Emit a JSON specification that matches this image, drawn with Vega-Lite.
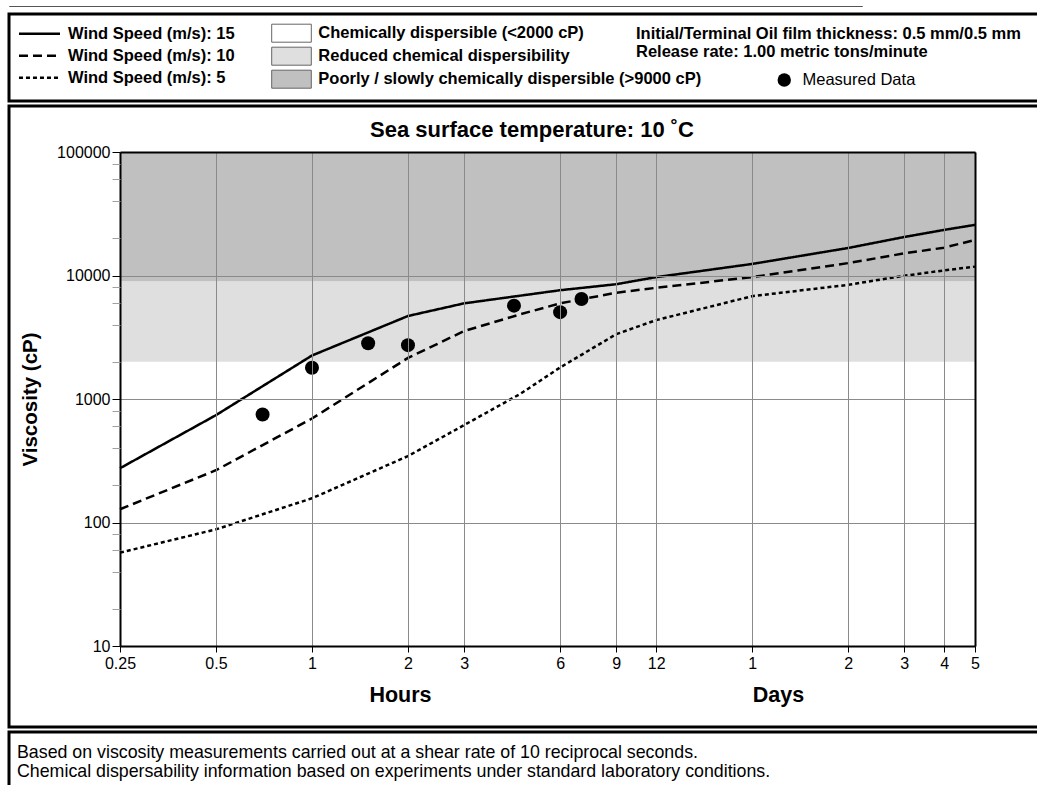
{
  "$schema": "https://vega.github.io/schema/vega-lite/v6.json",
  "padding": {"left": 7, "top": 5, "right": 0, "bottom": 0},
  "background": "white",
  "config": {
    "font": "Liberation Sans",
    "view": {"stroke": "black", "strokeWidth": 3},
    "axis": {"labelFont": "Liberation Sans", "titleFont": "Liberation Sans", "labelColor": "black", "titleColor": "black", "tickColor": "black", "domainColor": "black", "labelFontSize": 16, "zindex": 1},
    "legend": {"labelFont": "Liberation Sans", "titleFont": "Liberation Sans", "labelColor": "black", "titleColor": "black", "padding": 0, "labelLimit": 600, "titleLimit": 600},
    "title": {"font": "Liberation Sans", "color": "black"}
  },
  "datasets": {
    "visc": [
      {"wind": "Wind Speed (m/s): 15", "hours": 0.25, "visc": 275},
      {"wind": "Wind Speed (m/s): 15", "hours": 0.5, "visc": 740},
      {"wind": "Wind Speed (m/s): 15", "hours": 1, "visc": 2250},
      {"wind": "Wind Speed (m/s): 15", "hours": 2, "visc": 4700},
      {"wind": "Wind Speed (m/s): 15", "hours": 3, "visc": 5950},
      {"wind": "Wind Speed (m/s): 15", "hours": 6, "visc": 7600},
      {"wind": "Wind Speed (m/s): 15", "hours": 9, "visc": 8500},
      {"wind": "Wind Speed (m/s): 15", "hours": 12, "visc": 9700},
      {"wind": "Wind Speed (m/s): 15", "hours": 24, "visc": 12400},
      {"wind": "Wind Speed (m/s): 15", "hours": 48, "visc": 16700},
      {"wind": "Wind Speed (m/s): 15", "hours": 72, "visc": 20500},
      {"wind": "Wind Speed (m/s): 15", "hours": 96, "visc": 23400},
      {"wind": "Wind Speed (m/s): 15", "hours": 120, "visc": 25700},
      {"wind": "Wind Speed (m/s): 10", "hours": 0.25, "visc": 128},
      {"wind": "Wind Speed (m/s): 10", "hours": 0.5, "visc": 265},
      {"wind": "Wind Speed (m/s): 10", "hours": 1, "visc": 695},
      {"wind": "Wind Speed (m/s): 10", "hours": 2, "visc": 2150},
      {"wind": "Wind Speed (m/s): 10", "hours": 3, "visc": 3550},
      {"wind": "Wind Speed (m/s): 10", "hours": 4.5, "visc": 4850},
      {"wind": "Wind Speed (m/s): 10", "hours": 6, "visc": 5950},
      {"wind": "Wind Speed (m/s): 10", "hours": 9, "visc": 7250},
      {"wind": "Wind Speed (m/s): 10", "hours": 12, "visc": 7950},
      {"wind": "Wind Speed (m/s): 10", "hours": 24, "visc": 9700},
      {"wind": "Wind Speed (m/s): 10", "hours": 48, "visc": 12600},
      {"wind": "Wind Speed (m/s): 10", "hours": 72, "visc": 15100},
      {"wind": "Wind Speed (m/s): 10", "hours": 96, "visc": 16800},
      {"wind": "Wind Speed (m/s): 10", "hours": 120, "visc": 19400},
      {"wind": "Wind Speed (m/s): 5", "hours": 0.25, "visc": 57},
      {"wind": "Wind Speed (m/s): 5", "hours": 0.5, "visc": 88},
      {"wind": "Wind Speed (m/s): 5", "hours": 1, "visc": 157},
      {"wind": "Wind Speed (m/s): 5", "hours": 2, "visc": 345},
      {"wind": "Wind Speed (m/s): 5", "hours": 3, "visc": 615},
      {"wind": "Wind Speed (m/s): 5", "hours": 4.5, "visc": 1100},
      {"wind": "Wind Speed (m/s): 5", "hours": 6, "visc": 1800},
      {"wind": "Wind Speed (m/s): 5", "hours": 9, "visc": 3350},
      {"wind": "Wind Speed (m/s): 5", "hours": 12, "visc": 4350},
      {"wind": "Wind Speed (m/s): 5", "hours": 24, "visc": 6800},
      {"wind": "Wind Speed (m/s): 5", "hours": 48, "visc": 8400},
      {"wind": "Wind Speed (m/s): 5", "hours": 72, "visc": 9950},
      {"wind": "Wind Speed (m/s): 5", "hours": 96, "visc": 11000},
      {"wind": "Wind Speed (m/s): 5", "hours": 120, "visc": 11800}
    ],
    "zones": [
      {"zone": "Chemically dispersible (<2000 cP)", "lo": 10, "hi": 2000},
      {"zone": "Reduced chemical dispersibility", "lo": 2000, "hi": 9000},
      {"zone": "Poorly / slowly chemically dispersible (>9000 cP)", "lo": 9000, "hi": 100000}
    ],
    "measured": [
      {"kind": "Measured Data", "hours": 0.7, "visc": 750},
      {"kind": "Measured Data", "hours": 1, "visc": 1790},
      {"kind": "Measured Data", "hours": 1.5, "visc": 2830},
      {"kind": "Measured Data", "hours": 2, "visc": 2730},
      {"kind": "Measured Data", "hours": 4.3, "visc": 5700},
      {"kind": "Measured Data", "hours": 6, "visc": 5050},
      {"kind": "Measured Data", "hours": 7, "visc": 6450}
    ]
  },
  "spacing": 5,
  "vconcat": [
    {
      "width": 853,
      "height": 0.01,
      "view": {"stroke": "#555", "strokeWidth": 1},
      "data": {"values": []},
      "mark": "point",
      "encoding": {}
    },
    {
      "spacing": 1,
      "resolve": {"scale": {"fill": "independent", "strokeDash": "independent", "shape": "independent"}},
      "vconcat": [
        {
          "width": 1046,
          "height": 87,
          "view": {"stroke": "black", "strokeWidth": 3},
          "layer": [
            {
              "data": {"name": "visc"},
              "mark": {"type": "line", "opacity": 0, "color": "black", "strokeWidth": 2.5},
              "encoding": {
                "strokeDash": {
                  "field": "wind", "type": "nominal",
                  "scale": {"domain": ["Wind Speed (m/s): 15", "Wind Speed (m/s): 10", "Wind Speed (m/s): 5"], "range": [[1, 0], [9, 5], [4, 3]]},
                  "legend": {"orient": "none", "legendX": 10, "legendY": 9.3, "title": null, "direction": "vertical", "symbolType": "M-2.28,0H2.28", "symbolSize": 324, "symbolStrokeWidth": 2.5, "symbolStrokeColor": "black", "symbolOffset": 10, "labelOffset": 18, "labelFontSize": 16.5, "labelFontWeight": "bold", "rowPadding": 3}
                }
              }
            },
            {
              "data": {"name": "zones"},
              "mark": {"type": "rect", "opacity": 0},
              "encoding": {
                "fill": {
                  "field": "zone", "type": "nominal",
                  "scale": {"domain": ["Chemically dispersible (<2000 cP)", "Reduced chemical dispersibility", "Poorly / slowly chemically dispersible (>9000 cP)"], "range": ["#ffffff", "#dfdfdf", "#c0c0c0"]},
                  "legend": {"orient": "none", "legendX": 262.7, "legendY": 9.7, "title": null, "direction": "vertical", "symbolType": "M-2.2,-1H2.2V1H-2.2Z", "symbolSize": 324, "symbolStrokeWidth": 1, "symbolStrokeColor": "#666666", "symbolOffset": 10.3, "labelOffset": 17.3, "labelFontSize": 16.5, "labelFontWeight": "bold", "rowPadding": 0}
                }
              }
            },
            {
              "data": {"name": "measured"},
              "mark": {"type": "point", "opacity": 0, "filled": true, "color": "black"},
              "encoding": {
                "shape": {
                  "field": "kind", "type": "nominal",
                  "scale": {"range": ["circle"]},
                  "legend": {"orient": "none", "legendX": 627, "legendY": 12.2, "title": ["Initial/Terminal Oil film thickness: 0.5 mm/0.5 mm", "Release rate: 1.00 metric tons/minute"], "titleFontSize": 16.5, "titleFontWeight": "bold", "titleLineHeight": 18, "titlePadding": 11, "titleBaseline": "top", "direction": "vertical", "symbolType": "circle", "symbolSize": 180, "symbolFillColor": "black", "symbolStrokeWidth": 0, "symbolOffset": 140, "labelOffset": 10, "labelFontSize": 16.5, "labelFontWeight": "normal"}
                }
              }
            }
          ]
        },
        {
          "width": 1046,
          "height": 621,
          "title": {"text": "Sea surface temperature: 10 ˚C", "fontSize": 22, "fontWeight": "bold", "anchor": "middle", "frame": "group", "offset": -53, "baseline": "alphabetic"},
          "resolve": {"axis": {"x": "independent", "y": "independent"}},
          "layer": [
            {
              "data": {"name": "zones"},
              "mark": {"type": "rect"},
              "encoding": {
                "x": {"datum": 0.25, "type": "quantitative",
                  "scale": {"type": "log", "domain": [0.25, 120], "range": [111, 966], "nice": false},
                  "axis": {"orient": "bottom", "offset": -81, "values": [0.25, 0.5, 1, 2, 3, 6, 9, 12, 24, 48, 72, 96, 120], "labelExpr": "datum.value >= 24 ? datum.value / 24 : datum.value", "labelOverlap": false, "labelFlush": false, "labelPadding": 3, "tickSize": 6, "tickWidth": 1, "domainWidth": 2, "grid": false, "title": "Hours", "titleX": 391, "titleY": 55, "titleAlign": "center", "titleBaseline": "alphabetic", "titleFontSize": 21.5, "titleFontWeight": "bold", "zindex": 1}},
                "x2": {"datum": 120},
                "y": {"field": "lo", "type": "quantitative",
                  "scale": {"type": "log", "domain": [10, 100000], "range": [540, 46], "nice": false},
                  "axis": {"orient": "left", "offset": -111, "values": [10, 100, 1000, 10000, 100000], "format": "d", "labelOverlap": false, "labelFlush": false, "labelPadding": 2, "tickSize": 8, "tickWidth": 1, "domainWidth": 2, "grid": true, "gridColor": "#8a8a8a", "gridWidth": 1, "title": "Viscosity (cP)", "titleX": -90, "titleY": 293, "titleAngle": -90, "titleAlign": "center", "titleBaseline": "middle", "titleFontSize": 20.5, "titleFontWeight": "bold", "zindex": 1}},
                "y2": {"field": "hi"},
                "fill": {
                  "field": "zone", "type": "nominal",
                  "scale": {"domain": ["Chemically dispersible (<2000 cP)", "Reduced chemical dispersibility", "Poorly / slowly chemically dispersible (>9000 cP)"], "range": ["#ffffff", "#dfdfdf", "#c0c0c0"]},
                  "legend": null
                }
              }
            },
            {
              "data": {"name": "visc"},
              "mark": {"type": "line", "color": "black", "strokeWidth": 2.5},
              "encoding": {
                "x": {"field": "hours", "type": "quantitative",
                  "scale": {"type": "log", "domain": [0.25, 120], "range": [111, 966], "nice": false},
                  "axis": {"orient": "bottom", "offset": -81, "labels": false, "ticks": false, "domain": false, "grid": false, "title": "Days", "titleX": 769, "titleY": 55, "titleAlign": "center", "titleBaseline": "alphabetic", "titleFontSize": 21.5, "titleFontWeight": "bold", "zindex": 1}},
                "y": {"field": "visc", "type": "quantitative",
                  "scale": {"type": "log", "domain": [10, 100000], "range": [540, 46], "nice": false},
                  "axis": {"orient": "left", "offset": -111, "values": [20, 40, 60, 80, 200, 400, 600, 800, 2000, 4000, 6000, 8000, 20000, 40000, 60000, 80000], "labels": false, "domain": false, "grid": false, "tickSize": 8, "tickColor": "#a0a0a0", "tickWidth": 1, "title": null, "zindex": 1}},
                "strokeDash": {
                  "field": "wind", "type": "nominal",
                  "scale": {"domain": ["Wind Speed (m/s): 15", "Wind Speed (m/s): 10", "Wind Speed (m/s): 5"], "range": [[1, 0], [9, 5], [4, 3]]},
                  "legend": null
                }
              }
            },
            {
              "data": {"name": "measured"},
              "mark": {"type": "point", "filled": true, "color": "black", "size": 196, "opacity": 1},
              "encoding": {
                "x": {"field": "hours", "type": "quantitative",
                  "scale": {"type": "log", "domain": [0.25, 120], "range": [111, 966], "nice": false},
                  "axis": {"orient": "top", "offset": -46, "values": [0.25, 0.5, 1, 2, 3, 6, 9, 12, 24, 48, 72, 96, 120], "labels": false, "ticks": false, "grid": true, "gridColor": "#8a8a8a", "gridWidth": 1, "domain": true, "domainWidth": 2, "title": null, "zindex": 1}},
                "y": {"field": "visc", "type": "quantitative",
                  "scale": {"type": "log", "domain": [10, 100000], "range": [540, 46], "nice": false},
                  "axis": {"orient": "right", "offset": -80, "labels": false, "ticks": false, "grid": false, "domain": true, "domainWidth": 2, "title": null, "zindex": 1}}
              }
            }
          ]
        },
        {
          "width": 1046,
          "height": 70,
          "view": {"stroke": "black", "strokeWidth": 3},
          "title": {"text": ["Based on viscosity measurements carried out at a shear rate of 10 reciprocal seconds.", "Chemical dispersability information based on experiments under standard laboratory conditions."], "anchor": "start", "frame": "group", "offset": -62.5, "baseline": "alphabetic", "fontSize": 17.8, "fontWeight": "normal", "lineHeight": 19, "dx": 8},
          "data": {"values": []},
          "mark": "point",
          "encoding": {}
        }
      ]
    }
  ]
}
